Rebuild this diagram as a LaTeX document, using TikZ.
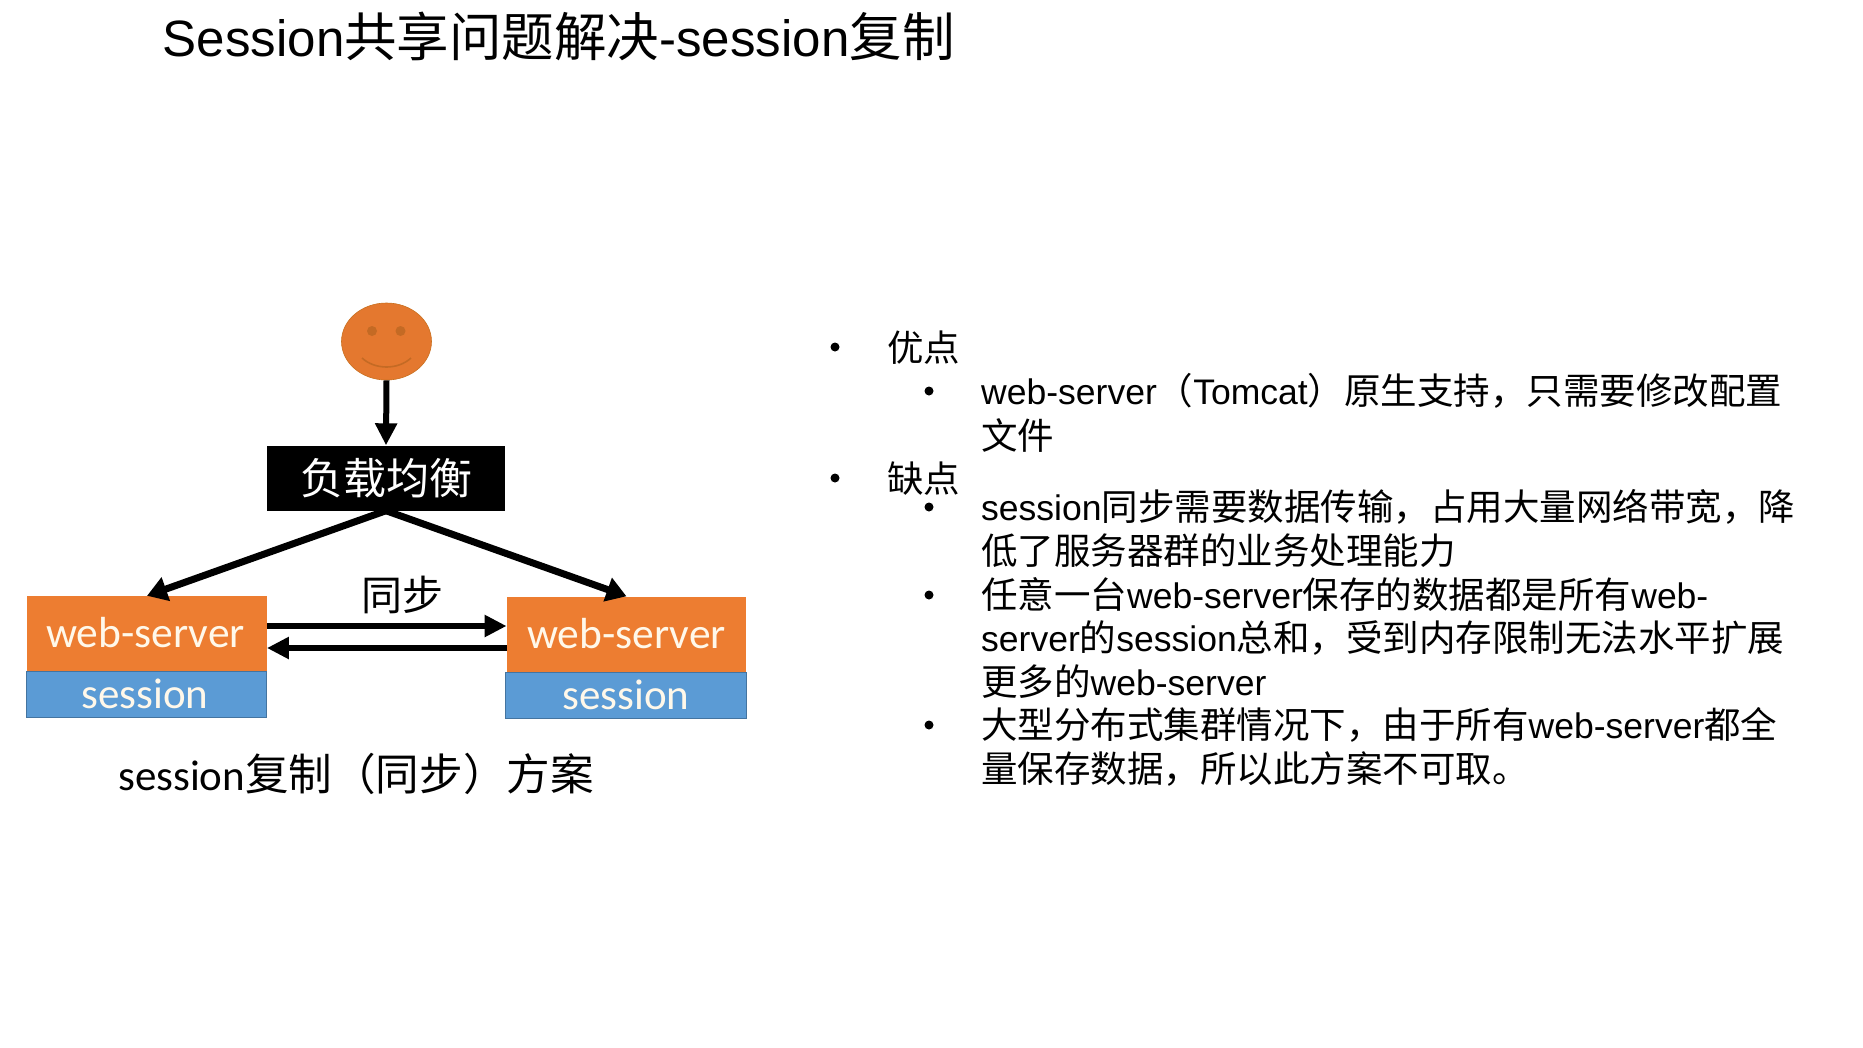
\documentclass[tikz,border=0pt]{standalone}
\usepackage{fontspec}
\usetikzlibrary{arrows.meta,shapes.geometric}
\setmainfont{Noto Sans CJK SC}
\newfontfamily\arialish[Scale=0.973]{Liberation Sans}
\newfontfamily\calib{Carlito}
\newcommand{\lat}[1]{{\arialish #1}}
\newcommand{\fs}[1]{\fontsize{#1}{#1}\selectfont}
\newcommand{\calibtxt}[1]{{\calib\fs{43}#1}}
\definecolor{srvorange}{HTML}{ED7D31}
\definecolor{sessblue}{HTML}{5B9BD5}
\definecolor{faceedge}{HTML}{C9701F}
\definecolor{eyecol}{HTML}{C46A24}
\definecolor{labelcream}{HTML}{FFF8EA}
\tikzset{
  x=1pt,y=-1pt,
  server/.style={rectangle,fill=srvorange,minimum width=239.5pt,minimum height=75pt,inner sep=0pt,text=labelcream,font=\calib\fs{43.5}},
  sess/.style={rectangle,fill=sessblue,draw=sessblue!75!black,line width=0.8pt,minimum width=240.5pt,minimum height=46pt,inner sep=0pt,text=labelcream,font=\calib\fs{43}},
  flow/.style={line width=6pt,-{Triangle[length=22pt,width=21pt]}},
  slant/.style={line width=7pt,-{Triangle[length=20pt,width=24pt]}},
  lineone/.style={anchor=base west,inner sep=0pt,font=\fs{36.5}},
  bulletdot/.style={circle,fill=black,inner sep=0pt,minimum size=9pt},
}
\begin{document}
\begin{tikzpicture}
\useasboundingbox (0,0) rectangle (1863,1047);
\fill[white] (0,0) rectangle (1863,1047);

% heading
\node[anchor=base west,inner sep=0pt,font=\fs{52.5}] (title) at (162.5,56) {\lat{Session}共享问题解决\lat{-session}复制};

% client face
\node[ellipse,fill=srvorange!96!black,draw=faceedge,line width=0.6pt,minimum width=90pt,minimum height=77pt,inner sep=0pt] (face) at (386.5,341.5) {};
\node[circle,fill=eyecol,minimum size=10pt,inner sep=0pt] (eyeL) at (372,331) {};
\node[circle,fill=eyecol,minimum size=10pt,inner sep=0pt] (eyeR) at (400.5,331) {};
\coordinate (smileL) at (362,358);
\coordinate (smileR) at (411,358);
\draw[eyecol,line width=1.6pt] (smileL) .. controls (375,370) and (398,370) .. (smileR);

% load balancer
\node[rectangle,fill=black,text=white,minimum width=238pt,minimum height=65pt,inner sep=0pt,font=\fs{43}] (lb) at (386,478) {\raisebox{-1pt}{负载均衡}};

% servers and their sessions
\node[server] (srvL) at (147,633.5) {\hspace{-3pt}\raisebox{1.5pt}{web-server}};
\node[sess] (sesL) at (146.5,694) {\hspace{-3pt}\raisebox{1pt}{session}};
\node[server] (srvR) at (626.5,634) {\raisebox{1.5pt}{web-server}};
\node[sess] (sesR) at (626,695.5) {\raisebox{1pt}{session}};

% request flow
\draw[flow] (face.south) -- (lb.north);
\draw[slant] (lb.south) -- (srvL.north);
\draw[slant] (lb.south) -- (srvR.north);

% replication between servers
\draw[flow] ([yshift=7.5pt]srvL.east) -- ([yshift=8pt]srvR.west);
\draw[flow] ([yshift=-14pt]srvR.west) -- ([yshift=-14.5pt]srvL.east);
\node[inner sep=0pt,font=\fs{41}] (sync) at (402,595) {同步};

% caption
\node[anchor=base west,inner sep=0pt,font=\fs{43.6}] (caption) at (118,790.5) {\calibtxt{session}复制（同步）方案};

% pros and cons
\node[bulletdot] (b1) at (835,347) {};
\node[lineone] (t1) at (887,361) {优点};
\node[bulletdot] (b2) at (929,391) {};
\node[lineone] (t2) at (981,404) {\lat{web-server}（\lat{Tomcat}）原生支持，只需要修改配置};
\node[lineone] (t3) at (981,449) {文件};
\node[bulletdot] (b3) at (835,478) {};
\node[lineone] (t4) at (887,492) {缺点};
\node[bulletdot] (b4) at (929,507) {};
\node[lineone] (t5) at (981,520) {\lat{session}同步需要数据传输，占用大量网络带宽，降};
\node[lineone] (t6) at (981,564) {低了服务器群的业务处理能力};
\node[bulletdot] (b5) at (929,595) {};
\node[lineone] (t7) at (981,608) {任意一台\lat{web-server}保存的数据都是所有\lat{web-}};
\node[lineone] (t8) at (981,651) {\lat{server}的\lat{session}总和，受到内存限制无法水平扩展};
\node[lineone] (t9) at (981,695) {更多的\lat{web-server}};
\node[bulletdot] (b6) at (929,725) {};
\node[lineone] (t10) at (981,738) {大型分布式集群情况下，由于所有\lat{web-server}都全};
\node[lineone] (t11) at (981,782) {量保存数据，所以此方案不可取。};
\end{tikzpicture}
\end{document}
